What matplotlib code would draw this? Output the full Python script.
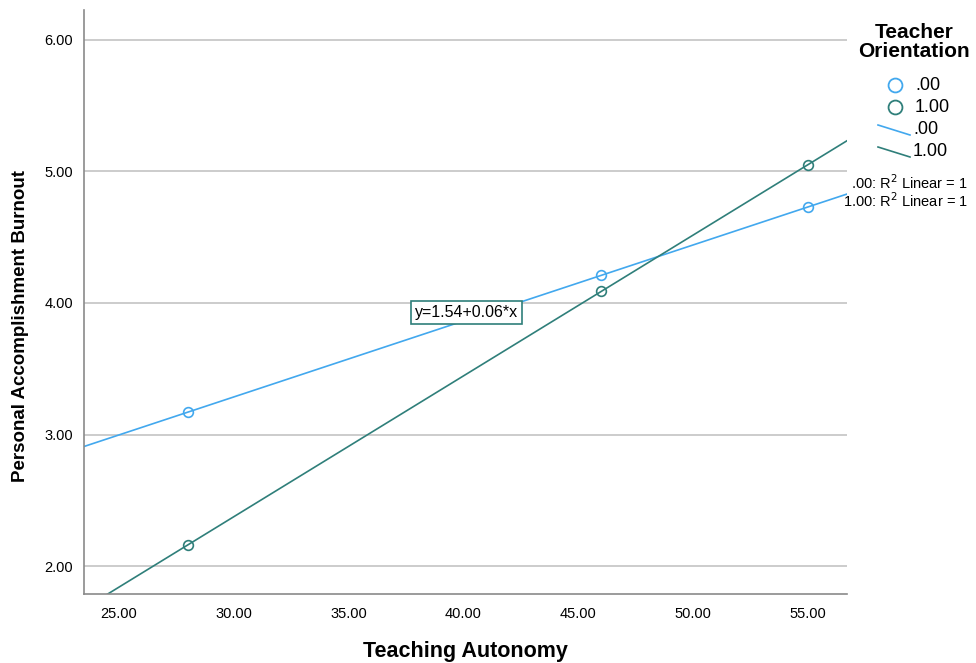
import matplotlib.pyplot as plt
import matplotlib.lines as mlines
import numpy as np

plt.rcParams['font.family'] = ['Liberation Sans', 'DejaVu Sans']

# data
autonomy = [28, 46, 55]
burnout_00 = [3.17, 4.21, 4.73]
burnout_10 = [2.16, 4.09, 5.05]
groups = ['.00', '1.00']
colors = ['#42A8EE', '#2F7F7A']
x_ticks = [25, 30, 35, 40, 45, 50, 55]
y_ticks = [2, 3, 4, 5, 6]

fig = plt.figure(figsize=(9.76, 6.63), dpi=100)
ax = fig.add_axes([0.0861, 0.104, 0.7817, 0.881])
xlim = (23.48, 56.7)
ylim = (1.787, 6.228)
ax.set_xlim(*xlim)
ax.set_ylim(*ylim)

for yt in y_ticks:
    ax.axhline(yt, color='#BEBEBE', lw=1.1, zorder=0)

xx = np.array(xlim)
for ys, c in zip([burnout_00, burnout_10], colors):
    slope, intercept = np.polyfit(autonomy, ys, 1)
    ax.plot(xx, intercept + slope * xx, color=c, lw=1.2, clip_on=True)
    ax.plot(autonomy, ys, ls='none', marker='o', ms=7, mfc='none',
            mec=c, mew=1.2)

ax.text(40.13, 3.93, 'y=1.54+0.06*x', ha='center', va='center', fontsize=11.5,
        bbox=dict(boxstyle='square,pad=0.25', fc='white', ec='#2F7F7A', lw=1.2))

ax.set_xticks(x_ticks)
ax.set_xticklabels([f'{v:.2f}' for v in x_ticks])
ax.set_yticks(y_ticks)
ax.set_yticklabels([f'{v:.2f}' for v in y_ticks])
ax.tick_params(length=0, labelsize=10.5)
ax.tick_params(axis='x', pad=9)
ax.tick_params(axis='y', pad=8)
for s in ['top', 'right']:
    ax.spines[s].set_visible(False)
for s in ['left', 'bottom']:
    ax.spines[s].set_color('#8A8A8A')
    ax.spines[s].set_linewidth(1.2)

ax.set_xlabel('Teaching Autonomy', fontsize=15.5, fontweight='bold')
ax.xaxis.set_label_coords(0.5, -0.0976)
ax.xaxis.label.set_va('center')
ax.set_ylabel('Personal Accomplishment Burnout', fontsize=13.5, fontweight='bold')
ax.yaxis.set_label_coords(-0.0835, 0.459)
ax.yaxis.label.set_va('center')

# legend drawn by hand at the right side
fig.text(914 / 976, 1 - 42 / 663, 'Teacher\nOrientation', ha='center', va='center',
         fontsize=15, fontweight='bold', linespacing=1.0)
for i, (g, c) in enumerate(zip(groups, colors)):
    y = 1 - (85 + 22 * i) / 663
    fig.add_artist(mlines.Line2D([895 / 976], [y], marker='o', ms=10, mfc='none',
                                 mec=c, mew=1.3, transform=fig.transFigure))
    fig.text(915 / 976, y, g, ha='left', va='center', fontsize=13)
for i, (g, c) in enumerate(zip(groups, colors)):
    y = 1 - (130 + 22 * i) / 663
    fig.add_artist(mlines.Line2D([878 / 976, 910 / 976], [y + 5 / 663, y - 5 / 663],
                                 color=c, lw=1.2, transform=fig.transFigure))
    fig.text(913 / 976, y, g, ha='left', va='center', fontsize=13)
for i, g in enumerate(groups):
    y = 1 - (183 + 18 * i) / 663
    fig.text(968 / 976, y, g + ': R$^2$ Linear = 1', ha='right', va='center',
             fontsize=10.5)

fig.savefig('out.png', dpi=100)
